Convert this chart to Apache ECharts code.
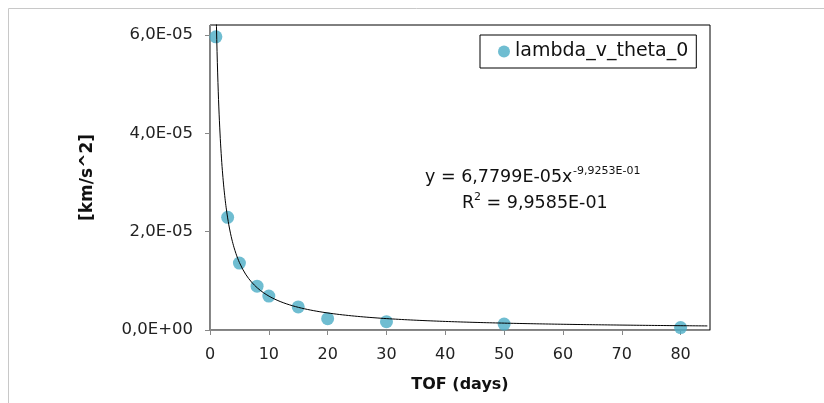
<!DOCTYPE html>
<html>
<head>
<meta charset="utf-8">
<script src="https://cdn.jsdelivr.net/npm/echarts@6/dist/echarts.min.js"></script>
<style>html,body{margin:0;padding:0;background:#fff}#c{width:824px;height:403px}</style>
</head>
<body>
<div id="c"></div>
<script>
// Data
const tofDays = [1, 3, 5, 8, 10, 15, 20, 30, 50, 80];
const lambdaValues = [5.96e-5, 2.29e-5, 1.36e-5, 0.89e-5, 0.69e-5, 0.47e-5, 0.23e-5, 0.17e-5, 0.12e-5, 0.05e-5];
const xTicks = [0, 10, 20, 30, 40, 50, 60, 70, 80];
const yTicks = [0, 2e-5, 4e-5, 6e-5];
const seriesName = 'lambda_v_theta_0';
// Power trendline coefficients as printed on the chart
const trendA = 6.7799e-5;
const trendB = -9.9253e-1;

const trend = [];
for (let x = 1; x <= 85.0001; x += (x < 5 ? 0.05 : 0.5)) {
  trend.push([x, trendA * Math.pow(x, trendB)]);
}

function fmtY(v) {
  if (v === 0) return '0,0E+00';
  const s = v.toExponential(1);
  const [m, e] = s.split('e');
  const ei = parseInt(e, 10);
  const es = (ei < 0 ? '-' : '+') + String(Math.abs(ei)).padStart(2, '0');
  return m.replace('.', ',') + 'E' + es;
}

const font = 'DejaVu Sans';
function txt(x, y, text, size) {
  return {
    type: 'text', x: x, y: y, silent: true,
    style: { text: text, fontFamily: font, fontSize: size, fill: '#111', align: 'left', verticalAlign: 'middle' }
  };
}
const chart = echarts.init(document.getElementById('c'));
chart.setOption({
  animation: false,
  textStyle: { fontFamily: font },
  grid: { left: 210, top: 25, right: 114, bottom: 73, show: true, borderColor: '#000', borderWidth: 1, backgroundColor: 'transparent' },
  legend: {
    data: [{ name: seriesName, icon: 'circle' }],
    left: 480, top: 35,
    itemWidth: 12, itemHeight: 12, itemGap: 5,
    padding: [7, 8, 7, 18],
    borderColor: '#000', borderWidth: 1,
    textStyle: { fontFamily: font, fontSize: 19, color: '#111' }
  },
  xAxis: {
    type: 'value', min: 0, max: 85, interval: 10,
    name: 'TOF (days)', nameLocation: 'middle', nameGap: 47,
    nameTextStyle: { fontFamily: font, fontSize: 16, fontWeight: 'bold', color: '#111' },
    axisLine: { show: true, lineStyle: { color: '#888', width: 1 } },
    axisTick: { show: true, length: 5, lineStyle: { color: '#888' }, customValues: xTicks },
    axisLabel: { fontSize: 16, color: '#222', margin: 17, customValues: xTicks },
    splitLine: { show: false }
  },
  yAxis: {
    type: 'value', min: 0, max: 6.2e-5, interval: 2e-5,
    name: '[km/s^2]', nameLocation: 'middle', nameGap: 114, nameRotate: 90,
    nameTextStyle: { fontFamily: font, fontSize: 17, fontWeight: 'bold', color: '#111' },
    axisLine: { show: true, lineStyle: { color: '#888', width: 1 } },
    axisTick: { show: true, length: 5, lineStyle: { color: '#888' }, customValues: yTicks },
    axisLabel: { fontSize: 16.5, color: '#222', margin: 17, formatter: fmtY, customValues: yTicks },
    splitLine: { show: false }
  },
  series: [
    {
      name: seriesName, type: 'scatter', data: tofDays.map((x, i) => [x, lambdaValues[i]]),
      symbol: 'circle', symbolSize: 13,
      itemStyle: { color: '#4BACC6' }, z: 2
    },
    {
      name: 'trend', type: 'line', data: trend, showSymbol: false, symbol: 'none',
      lineStyle: { color: '#000', width: 1 }, clip: true, z: 3, silent: true
    }
  ],
  graphic: [
    { type: 'rect', shape: { x: 8.5, y: 8.5, width: 900, height: 500 }, style: { fill: 'none', stroke: '#c8c8c8', lineWidth: 1 }, silent: true },
    txt(425, 177, 'y = 6,7799E-05x', 17.5),
    txt(573, 171, '-9,9253E-01', 11),
    txt(462, 203, 'R', 17.5),
    txt(474, 197, '2', 11),
    txt(481, 203, ' = 9,9585E-01', 17.5)
  ]
});
</script>
</body>
</html>
